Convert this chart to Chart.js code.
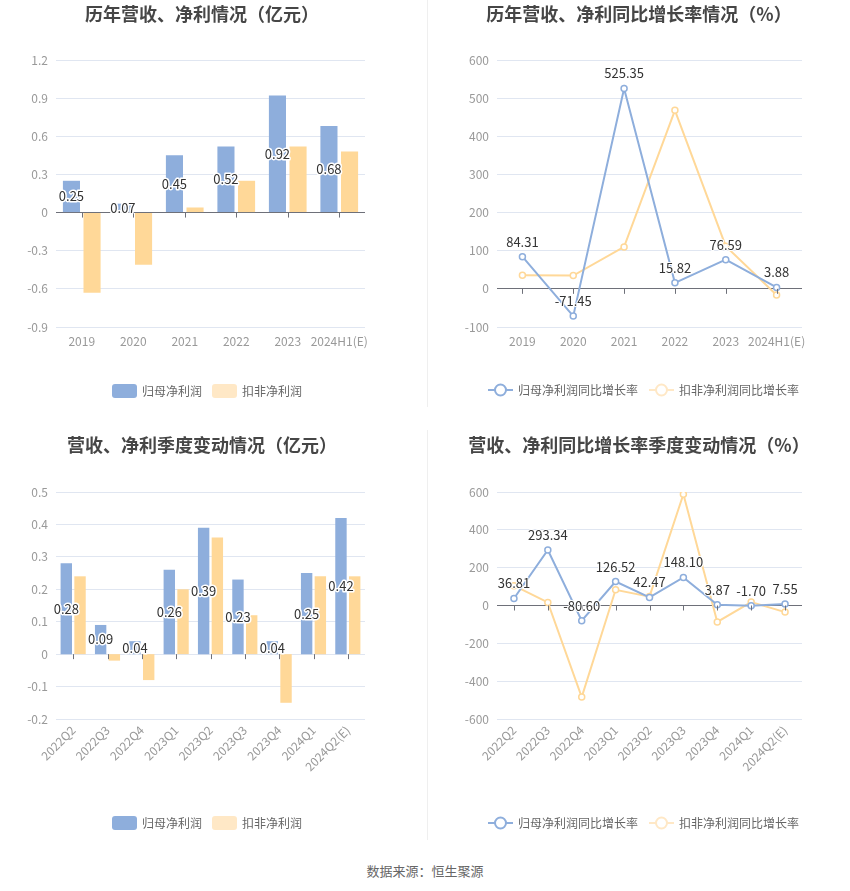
<!DOCTYPE html>
<html>
<head>
<meta charset="utf-8">
<script src="https://cdn.jsdelivr.net/npm/chart.js@4"></script>
<style>
body{margin:0;background:#fff;width:850px;height:891px;position:relative;overflow:hidden;font-family:"Noto Sans CJK SC",sans-serif}
canvas{position:absolute}
.vline{position:absolute;left:427px;width:1px;background:#efefef}
#src{position:absolute;top:861px;left:0;width:850px;text-align:center;font-size:13px;color:#666}
</style>
</head>
<body>
<canvas id="c1" width="425" height="410" style="left:0;top:0"></canvas>
<canvas id="c2" width="425" height="410" style="left:425px;top:0"></canvas>
<canvas id="c3" width="425" height="430" style="left:0;top:420px"></canvas>
<canvas id="c4" width="425" height="430" style="left:425px;top:420px"></canvas>
<div class="vline" style="top:0;height:407px"></div>
<div class="vline" style="top:430px;height:410px"></div>
<div id="src">数据来源：恒生聚源</div>
<script>
const yearLabels = ['2019', '2020', '2021', '2022', '2023', '2024H1(E)'];
const yearNetProfit = [0.25, 0.07, 0.45, 0.52, 0.92, 0.68];
const yearDeductedProfit = [-0.63, -0.41, 0.04, 0.25, 0.52, 0.48];
const yearNetGrowth = [84.31, -71.45, 525.35, 15.82, 76.59, 3.88];
const yearDeductedGrowth = [36, 35, 110, 468, 112, -16];

const quarterLabels = ['2022Q2', '2022Q3', '2022Q4', '2023Q1', '2023Q2', '2023Q3', '2023Q4', '2024Q1', '2024Q2(E)'];
const quarterNetProfit = [0.28, 0.09, 0.04, 0.26, 0.39, 0.23, 0.04, 0.25, 0.42];
const quarterDeductedProfit = [0.24, -0.02, -0.08, 0.20, 0.36, 0.12, -0.15, 0.24, 0.24];
const quarterNetGrowth = [36.81, 293.34, -80.60, 126.52, 42.47, 148.10, 3.87, -1.70, 7.55];
const quarterDeductedGrowth = [105, 16, -484, 83, 47, 588, -87, 18, -35];

const BLUE = '#8eaedc';
const ORANGE = '#ffd898';
const ORANGE_LEGEND = '#ffe8c6';
const FONT = '"Noto Sans CJK SC", sans-serif';

Chart.defaults.font.family = FONT;
Chart.defaults.devicePixelRatio = 1;

// titles, legends, zero-line ticks and value labels
const deco = {
    id: 'deco',
    afterDatasetsDraw(chart, args, o) {
        const c = chart.ctx;
        const yScale = chart.scales.y;
        const xScale = chart.scales.x;
        const zeroY = yScale.getPixelForValue(0);
        c.save();
        // ticks below zero axis
        c.strokeStyle = '#6e7079';
        c.lineWidth = 1;
        xScale.ticks.forEach((t, i) => {
            const x = Math.round(xScale.getPixelForTick(i)) + 0.5;
            c.beginPath();
            c.moveTo(x, zeroY);
            c.lineTo(x, zeroY + 5);
            c.stroke();
        });
        // value labels
        const meta = chart.getDatasetMeta(0);
        c.font = '13px ' + FONT;
        c.textAlign = 'center';
        c.textBaseline = 'middle';
        c.lineJoin = 'round';
        meta.data.forEach((el, i) => {
            const v = chart.data.datasets[0].data[i];
            let x = el.x, y;
            if (o.mode === 'bar') {
                y = (el.y + el.base) / 2;
            } else {
                y = el.y - 15;
            }
            const txt = v.toFixed(2);
            c.strokeStyle = '#fff';
            c.lineWidth = o.mode === 'bar' ? 3 : 2;
            c.strokeText(txt, x, y);
            c.fillStyle = '#333';
            c.fillText(txt, x, y);
        });
        // title
        c.font = 'bold 18px ' + FONT;
        c.fillStyle = '#464646';
        c.textAlign = 'center';
        c.fillText(o.title, o.titleX, o.titleY);
        // legend
        c.font = '12px ' + FONT;
        c.textAlign = 'left';
        o.legend.forEach(item => {
            const y = o.legendY;
            if (o.mode === 'bar') {
                c.fillStyle = item.color;
                c.beginPath();
                c.roundRect(item.x, y - 7, 25, 14, 3);
                c.fill();
            } else {
                c.strokeStyle = item.color;
                c.lineWidth = 2;
                c.beginPath();
                c.moveTo(item.x, y);
                c.lineTo(item.x + 25, y);
                c.stroke();
                c.fillStyle = '#fff';
                c.beginPath();
                c.arc(item.x + 12.5, y, 5.5, 0, Math.PI * 2);
                c.fill();
                c.stroke();
            }
            c.fillStyle = '#666';
            c.fillText(item.text, item.x + 30, y);
        });
        c.restore();
    }
};

function yAxis(min, max, step, width, dec) {
    return {
        min: min, max: max,
        ticks: {
            stepSize: step, color: '#999', font: {size: 12}, padding: 8,
            callback: v => String(parseFloat(v.toFixed(dec)))
        },
        grid: {color: ctx => ctx.tick && ctx.tick.value === 0 ? '#6e7079' : '#e0e6f1', drawTicks: false},
        border: {display: false},
        afterFit: s => { s.width = width; }
    };
}

function xAxis(height, rotate) {
    return {
        grid: {display: false, drawTicks: false},
        border: {display: false},
        ticks: {
            color: '#999', font: {size: 12}, padding: rotate ? 4 : 7, autoSkip: false,
            maxRotation: rotate ? 45 : 0, minRotation: rotate ? 45 : 0
        },
        afterFit: s => { s.height = height; }
    };
}

function barChart(id, labels, netData, dedData, yMin, yMax, step, pad, xh, rotate, opts) {
    return new Chart(document.getElementById(id), {
        type: 'bar',
        data: {
            labels: labels,
            datasets: [
                {label: '归母净利润', data: netData, backgroundColor: BLUE, categoryPercentage: 0.8, barPercentage: 0.83},
                {label: '扣非净利润', data: dedData, backgroundColor: ORANGE, categoryPercentage: 0.8, barPercentage: 0.83}
            ]
        },
        options: {
            responsive: false,
            animation: false,
            layout: {padding: pad},
            plugins: {legend: {display: false}, tooltip: {enabled: false}, deco: opts},
            scales: {x: xAxis(xh, rotate), y: yAxis(yMin, yMax, step, 56, 1)}
        },
        plugins: [deco]
    });
}

function lineChart(id, labels, netData, dedData, yMin, yMax, step, pad, xh, rotate, opts) {
    const ds = (label, data, color) => ({
        label: label, data: data, borderColor: color, borderWidth: 2,
        pointRadius: 3, pointBorderWidth: 1.5, pointBackgroundColor: '#fff', pointBorderColor: color,
        tension: 0
    });
    return new Chart(document.getElementById(id), {
        type: 'line',
        data: {
            labels: labels,
            datasets: [
                ds('归母净利润同比增长率', netData, BLUE),
                ds('扣非净利润同比增长率', dedData, ORANGE)
            ]
        },
        options: {
            responsive: false,
            animation: false,
            layout: {padding: pad},
            plugins: {legend: {display: false}, tooltip: {enabled: false}, deco: opts},
            scales: {x: Object.assign(xAxis(xh, rotate), {offset: true}), y: yAxis(yMin, yMax, step, 72, 0)}
        },
        plugins: [deco]
    });
}

barChart('c1', yearLabels, yearNetProfit, yearDeductedProfit, -0.9, 1.2, 0.3,
    {left: 0, right: 60, top: 60, bottom: 53}, 30, false,
    {mode: 'bar', title: '历年营收、净利情况（亿元）', titleX: 202, titleY: 14, legendY: 391,
     legend: [{text: '归母净利润', color: BLUE, x: 112}, {text: '扣非净利润', color: ORANGE_LEGEND, x: 212}]});

lineChart('c2', yearLabels, yearNetGrowth, yearDeductedGrowth, -100, 600, 100,
    {left: 0, right: 48, top: 60, bottom: 53}, 30, false,
    {mode: 'line', title: '历年营收、净利同比增长率情况（%）', titleX: 214, titleY: 14, legendY: 390,
     legend: [{text: '归母净利润同比增长率', color: BLUE, x: 63}, {text: '扣非净利润同比增长率', color: ORANGE_LEGEND, x: 224}]});

barChart('c3', quarterLabels, quarterNetProfit, quarterDeductedProfit, -0.2, 0.5, 0.1,
    {left: 0, right: 60, top: 72, bottom: 71}, 60, true,
    {mode: 'bar', title: '营收、净利季度变动情况（亿元）', titleX: 202, titleY: 25, legendY: 403,
     legend: [{text: '归母净利润', color: BLUE, x: 112}, {text: '扣非净利润', color: ORANGE_LEGEND, x: 212}]});

lineChart('c4', quarterLabels, quarterNetGrowth, quarterDeductedGrowth, -600, 600, 200,
    {left: 0, right: 48, top: 72, bottom: 71}, 60, true,
    {mode: 'line', title: '营收、净利同比增长率季度变动情况（%）', titleX: 214, titleY: 25, legendY: 403,
     legend: [{text: '归母净利润同比增长率', color: BLUE, x: 63}, {text: '扣非净利润同比增长率', color: ORANGE_LEGEND, x: 224}]});
</script>
</body>
</html>
